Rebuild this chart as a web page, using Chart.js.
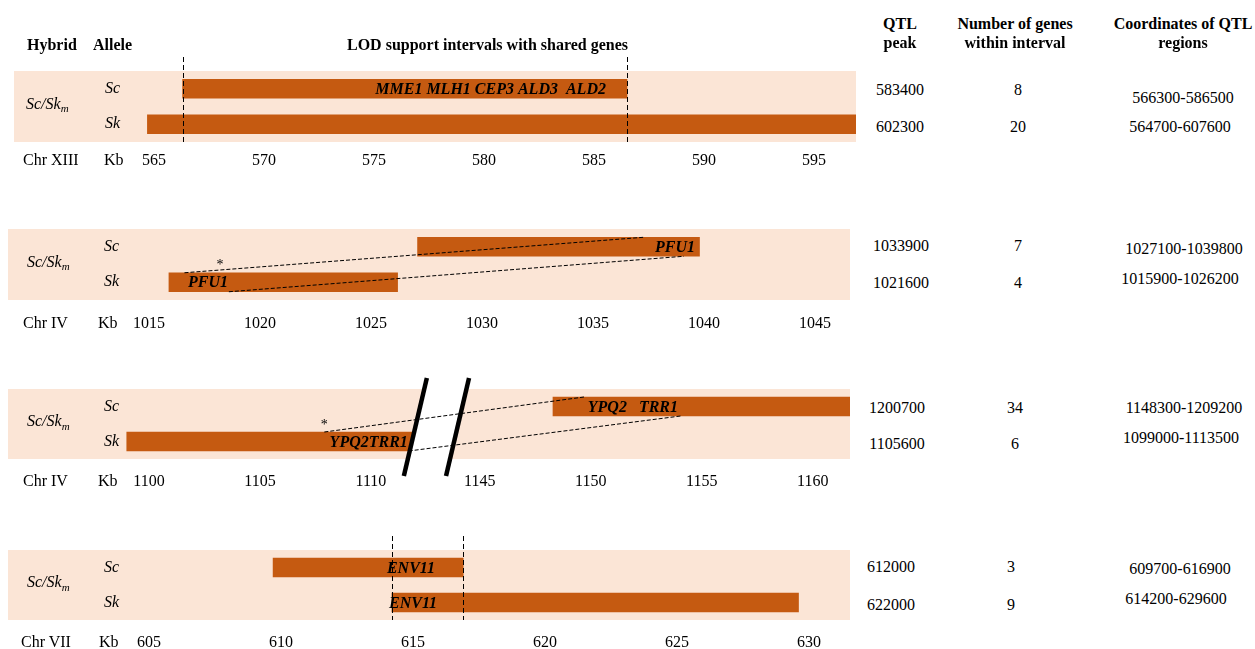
<!DOCTYPE html>
<html>
<head>
<meta charset="utf-8">
<script src="https://cdn.jsdelivr.net/npm/chart.js@4.4.1/dist/chart.umd.min.js"></script>
<style>
  html, body { margin: 0; padding: 0; background: #fff; }
  body { width: 1255px; height: 649px; overflow: hidden; position: relative;
         font-family: "Liberation Serif", "Times New Roman", serif; color: #000; }
  .t { position: absolute; font-size: 16px; line-height: 1; white-space: pre; }
  .b { font-weight: bold; }
  canvas { position: absolute; }
</style>
</head>
<body>
<script>
// ---- data (kb) ----
const alleles = ['Sc', 'Sk'];
const chromosomes = ['Chr XIII', 'Chr IV', 'Chr IV', 'Chr VII'];

// LOD support intervals [start, end] per allele (Sc, Sk)
const regionsXIII = [[566.3, 586.5], [564.7, 607.6]];
const regionsIVa  = [[1027.1, 1039.8], [1015.9, 1026.2]];
const regionsIVb  = [[1148.3, 1209.2], [1099.0, 1113.5]];
const regionsVII  = [[609.7, 616.9], [614.2, 629.6]];

const ticksXIII = [565, 570, 575, 580, 585, 590, 595];
const ticksIVa  = [1015, 1020, 1025, 1030, 1035, 1040, 1045];
const ticksIVb  = [1100, 1105, 1110, 1145, 1150, 1155, 1160];
const ticksVII  = [605, 610, 615, 620, 625, 630];

// QTL peaks (bp) and number of genes within each interval, rows Sc then Sk
const qtlPeaks   = [[583400, 602300], [1033900, 1021600], [1200700, 1105600], [612000, 622000]];
const geneCounts = [[8, 20], [7, 4], [34, 6], [3, 9]];

// shared genes written on the bars (row 0 = Sc, row 1 = Sk; position in kb)
const genesXIII = [{ row: 0, at: 580.3, text: 'MME1 MLH1 CEP3 ALD3  ALD2' }];
const genesIVa  = [{ row: 0, at: 1038.7, text: 'PFU1' }, { row: 1, at: 1017.66, text: 'PFU1' }];
const genesIVb  = [{ row: 0, at: 1151.9, text: 'YPQ2   TRR1' }, { row: 1, at: 1109.9, text: 'YPQ2TRR1' }];
const genesVII  = [{ row: 0, at: 614.92, text: 'ENV11' }, { row: 1, at: 615.0, text: 'ENV11' }];

// homologous positions linked between alleles [Sk kb, Sc kb]: upper edge, lower edge
const linksIVa = [[1016.6, 1037.3], [1018.6, 1039.1]];
const linksIVb = [[1107.9, 1149.7], [1111.7, 1154.05]];
const starIVa = 1018.2;
const starIVb = 1107.9;

// hidden stretch of the second Chr IV axis
const breakIVb = { from: 1112, to: 1144, gap: 1.9 };

// ---- styling ----
const PEACH = '#FBE5D6';
const RUST = '#C55A11';
const SERIF = '"Liberation Serif", "Times New Roman", serif';
Chart.defaults.font.family = SERIF;
Chart.defaults.font.size = 16;
Chart.defaults.color = '#000';

const CANVAS_W = 860;
const AXIS_H = 40;
const TOP_PAD = 20;
const BAR_T = 19;

function brokenAxis(b) {
  return v => v <= b.from ? v : (v >= b.to ? v - (b.to - b.from) + b.gap : b.from);
}

function overlap(regs) {
  return [Math.max(regs[0][0], regs[1][0]), Math.min(regs[0][1], regs[1][1])];
}

function makeAnnotations(cfg) {
  const map = cfg.toAxis || (v => v);
  return {
    id: 'panelMarks',
    beforeDraw(chart) {
      const { ctx, chartArea: a } = chart;
      ctx.save();
      ctx.fillStyle = PEACH;
      ctx.fillRect(a.left, a.top, a.right - a.left, a.bottom - a.top);
      ctx.restore();
    },
    afterDatasetsDraw(chart) {
      const { ctx, chartArea: a, scales: { x, y } } = chart;
      const mid = (a.top + a.bottom) / 2;
      const edge = (row, lower) => y.getPixelForValue(row) + (lower ? BAR_T / 2 : -BAR_T / 2);
      ctx.save();

      // cut in the axis: white band between the two slashes
      let slash = null;
      if (cfg.axisBreak) {
        const tilt = 23 / 98;
        const yc = mid + 3;
        const x1 = x.getPixelForValue(cfg.axisBreak.from);
        const x2 = x.getPixelForValue(cfg.axisBreak.from + cfg.axisBreak.gap);
        const at = (cx, yy) => cx + (yc - yy) * tilt;
        ctx.fillStyle = '#fff';
        ctx.beginPath();
        ctx.moveTo(at(x1, a.top), a.top);
        ctx.lineTo(at(x2, a.top), a.top);
        ctx.lineTo(at(x2, a.bottom), a.bottom);
        ctx.lineTo(at(x1, a.bottom), a.bottom);
        ctx.closePath();
        ctx.fill();
        slash = { at, x1, x2, top: a.top - 11, bottom: a.bottom + 17 };
      }

      // vertical guides around the shared interval
      if (cfg.guides) {
        ctx.strokeStyle = '#000';
        ctx.lineWidth = 1;
        ctx.setLineDash([5, 3]);
        overlap(cfg.regions).forEach(v => {
          const px = Math.round(x.getPixelForValue(map(v))) + 0.5;
          ctx.beginPath();
          ctx.moveTo(px, a.top - 14);
          ctx.lineTo(px, a.bottom);
          ctx.stroke();
        });
      }

      // links between homologous positions
      if (cfg.links) {
        ctx.strokeStyle = '#000';
        ctx.lineWidth = 1;
        ctx.setLineDash([4, 2]);
        cfg.links.forEach(([sk, sc], i) => {
          const lower = i === 1;
          ctx.beginPath();
          ctx.moveTo(x.getPixelForValue(map(sk)), edge(1, lower));
          ctx.lineTo(x.getPixelForValue(map(sc)), edge(0, lower));
          ctx.stroke();
        });
      }
      ctx.setLineDash([]);

      if (cfg.star != null) {
        ctx.fillStyle = '#000';
        ctx.font = '14px ' + SERIF;
        ctx.textAlign = 'center';
        ctx.textBaseline = 'middle';
        ctx.fillText('*', x.getPixelForValue(map(cfg.star)), mid + 1);
      }

      // gene names
      ctx.fillStyle = '#000';
      ctx.font = 'italic bold 16px ' + SERIF;
      ctx.textAlign = 'center';
      ctx.textBaseline = 'middle';
      cfg.genes.forEach(g => {
        ctx.fillText(g.text, x.getPixelForValue(map(g.at)), y.getPixelForValue(g.row) + 1);
      });

      // Sc/Skm hybrid label
      ctx.textAlign = 'left';
      ctx.font = 'italic 16px ' + SERIF;
      const hx = cfg.hybridX;
      ctx.fillText('Sc/Sk', hx, mid - 2);
      const w = ctx.measureText('Sc/Sk').width;
      ctx.font = 'italic 11px ' + SERIF;
      ctx.fillText('m', hx + w, mid + 3);

      if (slash) {
        ctx.strokeStyle = '#000';
        ctx.lineWidth = 4.5;
        ctx.lineCap = 'butt';
        [slash.x1, slash.x2].forEach(cx => {
          ctx.beginPath();
          ctx.moveTo(slash.at(cx, slash.top), slash.top);
          ctx.lineTo(slash.at(cx, slash.bottom), slash.bottom);
          ctx.stroke();
        });
      }
      ctx.restore();
    }
  };
}

function makePanel(cfg) {
  const cv = document.createElement('canvas');
  const top = cfg.peachTop - TOP_PAD;
  const h = cfg.peachBottom - top + AXIS_H;
  cv.width = CANVAS_W;
  cv.height = h;
  cv.style.left = '0px';
  cv.style.top = top + 'px';
  cv.style.width = CANVAS_W + 'px';
  cv.style.height = h + 'px';
  document.body.appendChild(cv);
  const map = cfg.toAxis || (v => v);

  return new Chart(cv, {
    type: 'bar',
    data: {
      labels: alleles,
      datasets: [{
        data: cfg.regions.map(r => r.map(map)),
        backgroundColor: RUST,
        borderWidth: 0,
        barThickness: BAR_T,
        clip: 0
      }]
    },
    options: {
      indexAxis: 'y',
      responsive: false,
      animation: false,
      devicePixelRatio: 1,
      events: [],
      layout: { padding: { left: cfg.peachLeft, right: CANVAS_W - cfg.peachRight, top: TOP_PAD, bottom: 0 } },
      plugins: { legend: { display: false }, tooltip: { enabled: false } },
      scales: {
        x: {
          type: 'linear',
          min: cfg.min,
          max: cfg.max,
          grid: { display: false, drawTicks: false },
          border: { display: false },
          afterBuildTicks: s => { s.ticks = cfg.ticks.map(v => ({ value: map(v) })); },
          afterFit: s => { s.height = AXIS_H; s.paddingLeft = 0; s.paddingRight = 0; },
          ticks: {
            padding: cfg.tickPad,
            autoSkip: false,
            maxRotation: 0,
            minRotation: 0,
            font: { size: 16 },
            callback: (v, i) => String(cfg.ticks[i])
          }
        },
        y: {
          type: 'category',
          offset: true,
          grid: { display: false, drawTicks: false },
          border: { display: false },
          afterFit: s => { s.width = 0; s.paddingTop = 0; s.paddingBottom = 0; },
          ticks: {
            mirror: true,
            padding: cfg.alleleX - cfg.peachLeft,
            font: { style: 'italic', size: 16 }
          }
        }
      }
    },
    plugins: [makeAnnotations(cfg)]
  });
}

const panels = [
  { regions: regionsXIII, ticks: ticksXIII, genes: genesXIII, guides: true,
    peachTop: 71, peachBottom: 142, peachLeft: 14, peachRight: 856,
    min: 558.636, max: 596.909, tickPad: 9, alleleX: 105, hybridX: 26 },
  { regions: regionsIVa, ticks: ticksIVa, genes: genesIVa, links: linksIVa, star: starIVa,
    peachTop: 229, peachBottom: 300, peachLeft: 8, peachRight: 850,
    min: 1008.65, max: 1046.58, tickPad: 14, alleleX: 104, hybridX: 27 },
  { regions: regionsIVb, ticks: ticksIVb, genes: genesIVb, links: linksIVb, star: starIVb,
    axisBreak: breakIVb, toAxis: brokenAxis(breakIVb),
    peachTop: 389, peachBottom: 459, peachLeft: 8, peachRight: 850,
    min: 1093.65, max: 1131.58, tickPad: 13, alleleX: 104, hybridX: 27 },
  { regions: regionsVII, ticks: ticksVII, genes: genesVII, guides: true,
    peachTop: 550, peachBottom: 620, peachLeft: 8, peachRight: 850,
    min: 599.66, max: 631.55, tickPad: 13, alleleX: 104, hybridX: 27 }
];
panels.forEach(makePanel);

// ---- text outside the plots ----
function put(html, x, y, cls, centred) {
  const d = document.createElement('div');
  d.className = 't ' + (cls || '');
  d.innerHTML = html;
  d.style.left = x + 'px';
  d.style.top = y + 'px';
  d.style.transform = centred ? 'translate(-50%, -50%)' : 'translate(0, -50%)';
  document.body.appendChild(d);
}

put('Hybrid', 27, 45, 'b');
put('Allele', 93, 45, 'b');
put('LOD support intervals with shared genes', 347, 45, 'b');
put('QTL', 900, 24, 'b', true);
put('peak', 900, 43, 'b', true);
put('Number of genes', 1015, 24, 'b', true);
put('within interval', 1015, 43, 'b', true);
put('Coordinates of QTL', 1183, 24, 'b', true);
put('regions', 1183, 43, 'b', true);

const axisLabelPos = [
  { chrX: 23, kbX: 104, y: 160 },
  { chrX: 23, kbX: 98, y: 323 },
  { chrX: 23, kbX: 98, y: 481 },
  { chrX: 21, kbX: 99, y: 642 }
];
chromosomes.forEach((c, i) => {
  put(c, axisLabelPos[i].chrX, axisLabelPos[i].y);
  put('Kb', axisLabelPos[i].kbX, axisLabelPos[i].y);
});

const tableLayout = [
  { peakX: 900, countX: 1018, coordX: [1183, 1180], rowY: [90, 127], coordY: [98, 127] },
  { peakX: 901, countX: 1018, coordX: [1184, 1180], rowY: [246, 283], coordY: [249, 279] },
  { peakX: 897, countX: 1015, coordX: [1184, 1181], rowY: [408, 444], coordY: [408, 438] },
  { peakX: 891, countX: 1011, coordX: [1180, 1176], rowY: [567, 605], coordY: [569, 599] }
];
const allRegions = [regionsXIII, regionsIVa, regionsIVb, regionsVII];
const bp = v => String(Math.round(v * 1000));
allRegions.forEach((regs, p) => {
  const L = tableLayout[p];
  [0, 1].forEach(r => {
    put(String(qtlPeaks[p][r]), L.peakX, L.rowY[r], '', true);
    put(String(geneCounts[p][r]), L.countX, L.rowY[r], '', true);
    put(bp(regs[r][0]) + '-' + bp(regs[r][1]), L.coordX[r], L.coordY[r], '', true);
  });
});
</script>
</body>
</html>
